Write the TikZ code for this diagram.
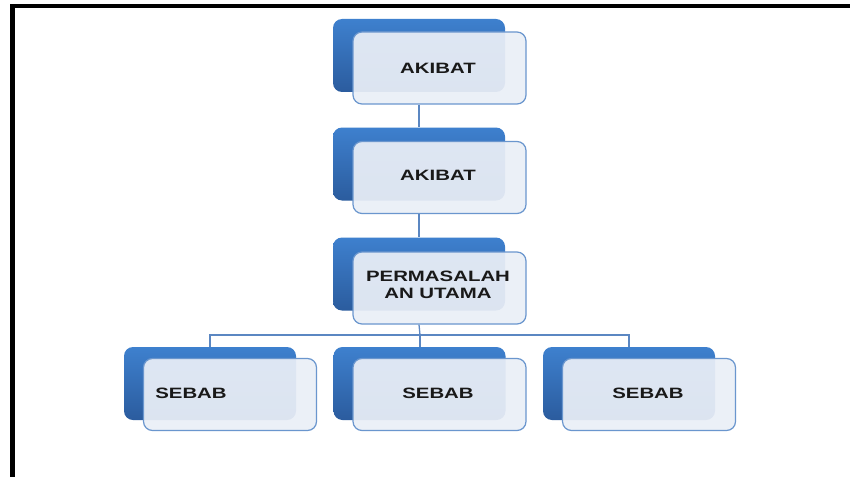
\documentclass[tikz,border=0pt]{standalone}
\usepackage{graphicx}
\usepackage{fontspec}
\setmainfont{Liberation Sans}
\usetikzlibrary{calc}
\definecolor{backtop}{HTML}{3E80CE}
\definecolor{backbot}{HTML}{2B5C9E}
\definecolor{frontfill}{HTML}{EAEFF7}
\definecolor{frontline}{HTML}{6A96CE}
\definecolor{conn}{HTML}{5B87C2}
\newcommand{\lbl}[1]{\scalebox{1.36}[1]{\begin{tabular}{@{}c@{}}#1\end{tabular}}}
\tikzset{
  backbox/.style={rectangle, rounded corners=9pt, minimum width=172pt, minimum height=73pt,
    inner sep=0pt, top color=backtop, bottom color=backbot, draw=none},
  frontbox/.style={rectangle, rounded corners=9pt, minimum width=173pt, minimum height=72pt,
    inner sep=0pt, fill=frontfill, fill opacity=0.93, draw=frontline, line width=1.2pt},
  lab/.style={inner sep=0pt, font=\fontsize{15}{16}\selectfont\bfseries, text=black!90},
  connector/.style={draw=conn, line width=1.3pt},
  frame/.style={draw=black, line width=4.5pt}
}
\begin{document}
\begin{tikzpicture}[x=1pt,y=-1pt]
\useasboundingbox (0,0) rectangle (850,476);
\fill[white] (0,0) rectangle (850,476);
\draw[frame] (852,6.2) -- (12.5,6.2) -- (12.5,478);

% back boxes
\node[backbox] (b1) at (419,55.5) {};
\node[backbox] (b2) at (419,164) {};
\node[backbox] (b3) at (419,274) {};
\node[backbox] (b4) at (210,383.5) {};
\node[backbox] (b5) at (419.5,383.5) {};
\node[backbox] (b6) at (629,383.5) {};

% front boxes
\node[frontbox] (f1) at (439.5,68) {};
\node[frontbox] (f2) at (439.5,177.5) {};
\node[frontbox] (f3) at (439.5,288) {};
\node[frontbox] (f4) at (230,394.5) {};
\node[frontbox] (f5) at (439.5,394.5) {};
\node[frontbox] (f6) at (649,394.5) {};

% connectors
\coordinate (j) at (420,335);
\draw[connector] (b1.center |- f1.south) -- (b1.center |- b2.north);
\draw[connector] (b2.center |- f2.south) -- (b2.center |- b3.north);
\draw[connector] (b3.center |- f3.south) -- (j);
\draw[connector] (b4.north) -- (b4.center |- j) -- (b6.center |- j) -- (b6.north);
\draw[connector] (j) -- (j |- b5.north);

% labels
\node[lab] (t1) at (438,70) {\lbl{AKIBAT}};
\node[lab] (t2) at (438,177) {\lbl{AKIBAT}};
\node[lab] (t3) at (438,287) {\lbl{PERMASALAH\\[1pt]AN UTAMA}};
\node[lab] (t4) at (191,395) {\lbl{SEBAB}};
\node[lab] (t5) at (438,395) {\lbl{SEBAB}};
\node[lab] (t6) at (648,395) {\lbl{SEBAB}};
\end{tikzpicture}
\end{document}
